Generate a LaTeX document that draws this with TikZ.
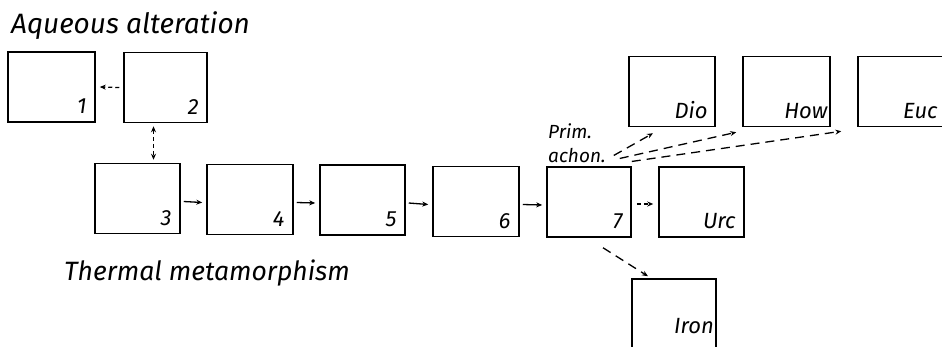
\documentclass[tikz,border=0pt]{standalone}
\usepackage{fontspec}
\setmainfont{Fira Sans}
\usetikzlibrary{arrows.meta}
\tikzset{
  stage/.style={draw, line width=1.5pt, rectangle, inner sep=0pt,
    minimum width=85pt, minimum height=70pt},
  tag/.style={font=\fontsize{22}{24}\selectfont\itshape, inner sep=0pt, anchor=base east},
  tip/.style={-{Stealth[length=6pt,width=5pt]}},
  flow/.style={tip, line width=1.3pt},
  maybe/.style={tip, line width=1.3pt, dash pattern=on 4pt off 3pt},
  branch/.style={tip, line width=1.3pt, dash pattern=on 9pt off 6pt},
  heading/.style={inner sep=0pt, anchor=base west}
}
\begin{document}
\begin{tikzpicture}[x=1pt, y=-1pt]
\useasboundingbox (0,0) rectangle (942,346);
\clip (0,0) rectangle (942,346);
\fill[white] (0,0) rectangle (942,346);

% headings
\node[heading, font=\fontsize{28}{30}\selectfont\itshape] (aq) at (11,33) {Aqueous alteration};
\node[heading, font=\fontsize{26.5}{30}\selectfont\itshape] (th) at (64,280) {Thermal metamorphism};

% aqueous alteration stages
\node[stage, minimum width=87pt] (s1) at (51.5,87) {};
\node[stage, minimum width=83pt] (s2) at (165.5,87.5) {};

% thermal metamorphism sequence
\node[stage] (s3) at (137.5,198.5) {};
\node[stage, minimum width=86pt] (s4) at (250,199.5) {};
\node[stage] (s5) at (362.5,200) {};
\node[stage, minimum width=86pt] (s6) at (476,201.5) {};
\node[stage, minimum width=84pt] (s7) at (589,202) {};

% achondrite groups
\node[stage, minimum width=86pt] (dio) at (672,91.5) {};
\node[stage, minimum width=87pt] (how) at (786.5,91.5) {};
\node[stage, minimum width=87pt] (euc) at (901.5,91.5) {};
\node[stage] (urc) at (701.5,202) {};
\node[stage, minimum width=84pt] (iron) at (674,314) {};

% labels in the lower right corners
\node[tag] at ([shift={(-9pt,9pt)}]s1.south east) {1};
\node[tag] at ([shift={(-9pt,9pt)}]s2.south east) {2};
\node[tag] at ([shift={(-9pt,9pt)}]s3.south east) {3};
\node[tag] at ([shift={(-9pt,9pt)}]s4.south east) {4};
\node[tag] at ([shift={(-9pt,9pt)}]s5.south east) {5};
\node[tag] at ([shift={(-9pt,9pt)}]s6.south east) {6};
\node[tag] at ([shift={(-9pt,9pt)}]s7.south east) {7};
\node[tag] at ([shift={(-8pt,9pt)}]dio.south east) {Dio};
\node[tag] at ([shift={(-3pt,9pt)}]how.south east) {How};
\node[tag] at ([shift={(-8pt,9pt)}]euc.south east) {Euc};
\node[tag] at ([shift={(-9pt,9pt)}]urc.south east) {Urc};
\node[tag] at (714,333) {Iron};

\node[font=\fontsize{19}{24}\selectfont\itshape, align=left, inner sep=0pt,
  anchor=north west] (prim) at (548,123) {Prim.\\achon.};

% connectors
\draw[maybe] ([xshift=-4pt]s2.west) -- ([xshift=4pt]s1.east);
\draw[maybe, {Stealth[length=6pt,width=5pt]}-{Stealth[length=6pt,width=5pt]}]
  ([xshift=-12pt,yshift=-3pt]s2.south) -- ([xshift=-12pt,yshift=3pt]s2.south |- s3.north);
\draw[flow] ([shift={(3pt,-3pt)}]s3.east) -- ([shift={(-4pt,-3pt)}]s4.west);
\draw[flow] ([shift={(3pt,-3pt)}]s4.east) -- ([shift={(-4pt,-3pt)}]s5.west);
\draw[flow] ([shift={(3pt,-3pt)}]s5.east) -- ([shift={(-4pt,-3pt)}]s6.west);
\draw[flow] ([shift={(3pt,-3pt)}]s6.east) -- ([shift={(-4pt,-3pt)}]s7.west);
\draw[maybe] ([shift={(5pt,-2pt)}]s7.east) -- ([shift={(-5pt,-2pt)}]urc.west);
\draw[branch] ([shift={(14pt,-10pt)}]s7.south) -- ([shift={(-26pt,2pt)}]iron.north);
\draw[branch] ([shift={(8pt,7pt)}]prim.south east) -- ([shift={(-19pt,-6pt)}]dio.south);
\draw[branch] ([shift={(14pt,4pt)}]prim.south east) -- ([shift={(-6pt,-5pt)}]how.south west);
\draw[branch] ([shift={(26pt,1pt)}]prim.south east) -- ([shift={(-16pt,-4pt)}]euc.south west);
\end{tikzpicture}
\end{document}
